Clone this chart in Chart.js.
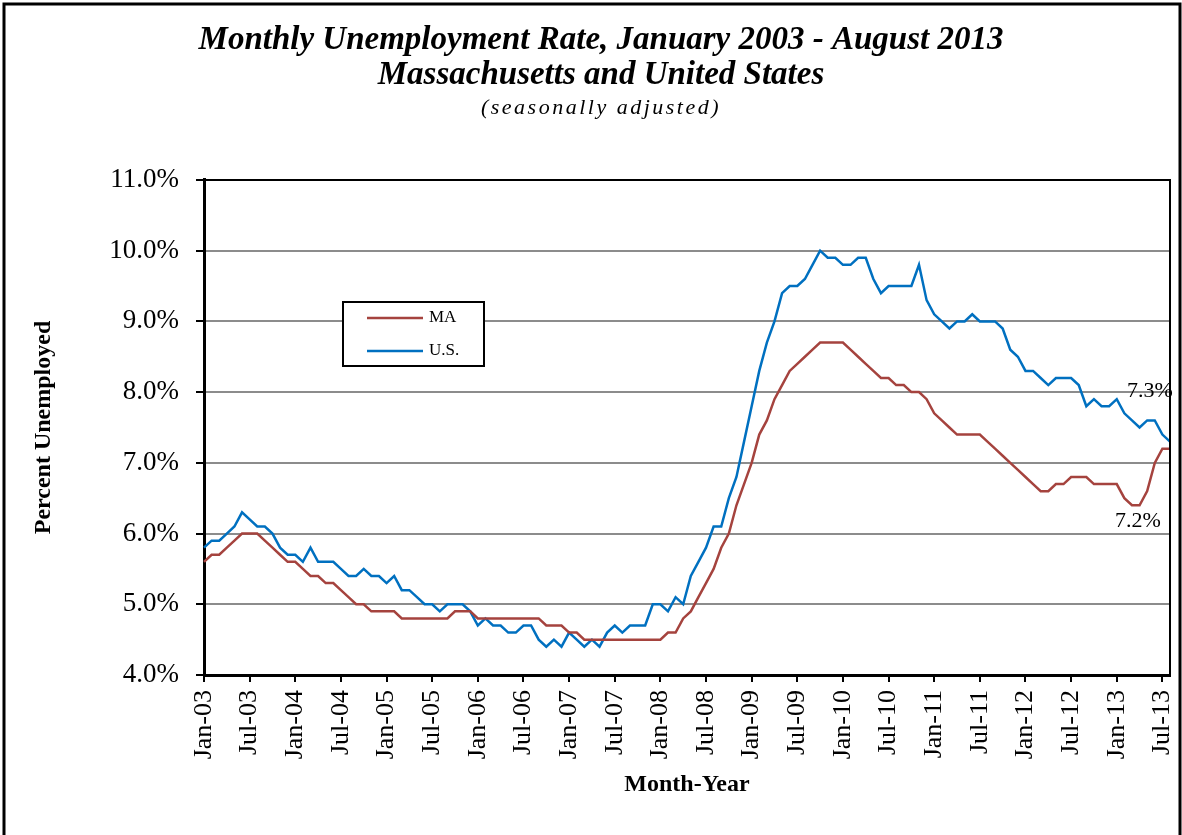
<!DOCTYPE html>
<html>
<head>
<meta charset="utf-8">
<script src="https://cdn.jsdelivr.net/npm/chart.js@4.4.1/dist/chart.umd.min.js"></script>
<style>
  html, body { margin: 0; padding: 0; background: #fff; }
  canvas { display: block; }
</style>
</head>
<body>
<canvas id="unemployment_chart" width="1182" height="835"></canvas>
<script>
//----------------------------------------
//--- Input data
//----------------------------------------

var years = ['03', '04', '05', '06', '07', '08', '09', '10', '11', '12', '13'];
var monthNames = ['Jan', 'Feb', 'Mar', 'Apr', 'May', 'Jun', 'Jul', 'Aug', 'Sep', 'Oct', 'Nov', 'Dec'];

var maRate = [
    5.6, 5.7, 5.7, 5.8, 5.9, 6.0, 6.0, 6.0, 5.9, 5.8, 5.7, 5.6,
    5.6, 5.5, 5.4, 5.4, 5.3, 5.3, 5.2, 5.1, 5.0, 5.0, 4.9, 4.9,
    4.9, 4.9, 4.8, 4.8, 4.8, 4.8, 4.8, 4.8, 4.8, 4.9, 4.9, 4.9,
    4.8, 4.8, 4.8, 4.8, 4.8, 4.8, 4.8, 4.8, 4.8, 4.7, 4.7, 4.7,
    4.6, 4.6, 4.5, 4.5, 4.5, 4.5, 4.5, 4.5, 4.5, 4.5, 4.5, 4.5,
    4.5, 4.6, 4.6, 4.8, 4.9, 5.1, 5.3, 5.5, 5.8, 6.0, 6.4, 6.7,
    7.0, 7.4, 7.6, 7.9, 8.1, 8.3, 8.4, 8.5, 8.6, 8.7, 8.7, 8.7,
    8.7, 8.6, 8.5, 8.4, 8.3, 8.2, 8.2, 8.1, 8.1, 8.0, 8.0, 7.9,
    7.7, 7.6, 7.5, 7.4, 7.4, 7.4, 7.4, 7.3, 7.2, 7.1, 7.0, 6.9,
    6.8, 6.7, 6.6, 6.6, 6.7, 6.7, 6.8, 6.8, 6.8, 6.7, 6.7, 6.7,
    6.7, 6.5, 6.4, 6.4, 6.6, 7.0, 7.2, 7.2];

var usRate = [
    5.8, 5.9, 5.9, 6.0, 6.1, 6.3, 6.2, 6.1, 6.1, 6.0, 5.8, 5.7,
    5.7, 5.6, 5.8, 5.6, 5.6, 5.6, 5.5, 5.4, 5.4, 5.5, 5.4, 5.4,
    5.3, 5.4, 5.2, 5.2, 5.1, 5.0, 5.0, 4.9, 5.0, 5.0, 5.0, 4.9,
    4.7, 4.8, 4.7, 4.7, 4.6, 4.6, 4.7, 4.7, 4.5, 4.4, 4.5, 4.4,
    4.6, 4.5, 4.4, 4.5, 4.4, 4.6, 4.7, 4.6, 4.7, 4.7, 4.7, 5.0,
    5.0, 4.9, 5.1, 5.0, 5.4, 5.6, 5.8, 6.1, 6.1, 6.5, 6.8, 7.3,
    7.8, 8.3, 8.7, 9.0, 9.4, 9.5, 9.5, 9.6, 9.8, 10.0, 9.9, 9.9,
    9.8, 9.8, 9.9, 9.9, 9.6, 9.4, 9.5, 9.5, 9.5, 9.5, 9.8, 9.3,
    9.1, 9.0, 8.9, 9.0, 9.0, 9.1, 9.0, 9.0, 9.0, 8.9, 8.6, 8.5,
    8.3, 8.3, 8.2, 8.1, 8.2, 8.2, 8.2, 8.1, 7.8, 7.9, 7.8, 7.8,
    7.9, 7.7, 7.6, 7.5, 7.6, 7.6, 7.4, 7.3];

// Jan-03 ... Aug-13
var monthLabels = [];
years.forEach(function (yy) {
    monthNames.forEach(function (mm) {
        if (monthLabels.length < usRate.length) monthLabels.push(mm + '-' + yy);
    });
});

var subtitleText = '(seasonally adjusted)';
var serif = "'Liberation Serif', 'Times New Roman', serif";

//----------------------------------------
//--- Drawing helpers (frame, legend box, end labels)
//----------------------------------------

var frame_plugin = {
    id: 'frame',
    beforeDraw: function (chart) {
        var ctx = chart.ctx;
        ctx.save();
        ctx.fillStyle = '#fff';
        ctx.fillRect(0, 0, chart.width, chart.height);
        ctx.restore();
        // wider letter spacing for the subtitle, like the original
        chart.boxes.forEach(function (box) {
            if (box.options && box.options.text === subtitleText && !box._spaced) {
                var orig = box.draw;
                box.draw = function (area) {
                    ctx.save();
                    ctx.letterSpacing = '2.5px';
                    orig.call(this, area);
                    ctx.restore();
                };
                box._spaced = true;
            }
        });
    },
    afterDatasetsDraw: function (chart) {
        var ctx = chart.ctx, a = chart.chartArea;
        ctx.save();
        // top / right plot border
        ctx.strokeStyle = '#000';
        ctx.lineWidth = 2;
        ctx.beginPath();
        ctx.moveTo(a.left, a.top);
        ctx.lineTo(a.right, a.top);
        ctx.lineTo(a.right, a.bottom);
        ctx.stroke();

        // legend box
        var bx = 343, by = 302, bw = 141, bh = 64;
        ctx.fillStyle = '#fff';
        ctx.fillRect(bx, by, bw, bh);
        ctx.lineWidth = 2;
        ctx.strokeRect(bx, by, bw, bh);
        ctx.font = '17px ' + serif;
        ctx.textBaseline = 'middle';
        chart.data.datasets.forEach(function (ds, i) {
            var y = by + 16 + i * 33;
            ctx.strokeStyle = ds.borderColor;
            ctx.lineWidth = 2.5;
            ctx.beginPath();
            ctx.moveTo(bx + 24, y);
            ctx.lineTo(bx + 80, y);
            ctx.stroke();
            ctx.fillStyle = '#000';
            ctx.fillText(ds.label, bx + 86, y);
        });

        // last-value labels
        ctx.font = '22px ' + serif;
        ctx.textAlign = 'center';
        var usMeta = chart.getDatasetMeta(1), maMeta = chart.getDatasetMeta(0);
        var usPt = usMeta.data[usMeta.data.length - 1];
        var maPt = maMeta.data[maMeta.data.length - 1];
        ctx.fillText(usRate[usRate.length - 1].toFixed(1) + '%', usPt.x - 20, usPt.y - 50);
        ctx.fillText(maRate[maRate.length - 1].toFixed(1) + '%', maPt.x - 32, maPt.y + 73);

        ctx.restore();
    },
    afterDraw: function (chart) {
        var ctx = chart.ctx;
        ctx.save();
        ctx.strokeStyle = '#000';
        ctx.lineWidth = 3;
        ctx.strokeRect(4, 4, chart.width - 6, chart.height + 10);
        ctx.restore();
    }
};

//----------------------------------------
//--- Line chart
//----------------------------------------

Chart.defaults.font.family = serif;
Chart.defaults.color = '#000';

var unemployment_chart = new Chart(document.getElementById('unemployment_chart').getContext('2d'), {
    type: 'line',
    data: {
        labels: monthLabels,
        datasets: [{
            label: 'MA', data: maRate,
            borderColor: '#A5433E', backgroundColor: '#A5433E',
            borderWidth: 2.5, pointRadius: 0, tension: 0
        }, {
            label: 'U.S.', data: usRate,
            borderColor: '#0070C0', backgroundColor: '#0070C0',
            borderWidth: 2.5, pointRadius: 0, tension: 0
        }]
    },
    options: {
        responsive: false, animation: false, devicePixelRatio: 1,
        layout: {padding: {top: 8, left: 32, right: 12, bottom: 0}},
        plugins: {
            legend: {display: false},
            tooltip: {enabled: false},
            title: {
                display: true,
                text: ['Monthly Unemployment Rate, January 2003 - August 2013', 'Massachusetts and United States'],
                font: {size: 33, weight: 'bold', style: 'italic', lineHeight: 1.06},
                padding: {top: 14.5, bottom: 0}
            },
            subtitle: {
                display: true, text: subtitleText,
                font: {size: 22, style: 'italic', lineHeight: 1.2},
                padding: {top: 2.3, bottom: 58.8}
            }
        },
        scales: {
            x: {
                type: 'category', offset: false,
                afterFit: function (s) { s.height = 160; s.paddingLeft = 0; s.paddingRight = 0; },
                grid: {
                    drawOnChartArea: false, tickLength: 7, lineWidth: 2,
                    tickColor: function (c) { return c.index % 6 === 0 ? '#000' : 'rgba(0,0,0,0)'; }
                },
                border: {color: '#000', width: 3},
                ticks: {
                    autoSkip: false, minRotation: 90, maxRotation: 90, padding: 8,
                    font: {size: 26},
                    callback: function (value, index) {
                        return index % 6 === 0 ? this.getLabelForValue(value) : '';
                    }
                },
                title: {
                    display: true, text: 'Month-Year',
                    font: {size: 24, weight: 'bold', lineHeight: 1.2},
                    padding: {top: 0, bottom: 35.6}
                }
            },
            y: {
                min: 4, max: 11,
                afterFit: function (s) { s.width = 172; },
                grid: {color: '#8C8C8C', lineWidth: 2, tickColor: '#000', tickLength: 8},
                border: {color: '#000', width: 3},
                ticks: {
                    stepSize: 1, padding: 17,
                    font: {size: 27},
                    callback: function (v) { return v.toFixed(1) + '%'; }
                },
                title: {
                    display: true, text: 'Percent Unemployed',
                    font: {size: 24, weight: 'bold', lineHeight: 1},
                    padding: {top: 0, bottom: 0}
                }
            }
        }
    },
    plugins: [frame_plugin]
});
</script>
</body>
</html>
